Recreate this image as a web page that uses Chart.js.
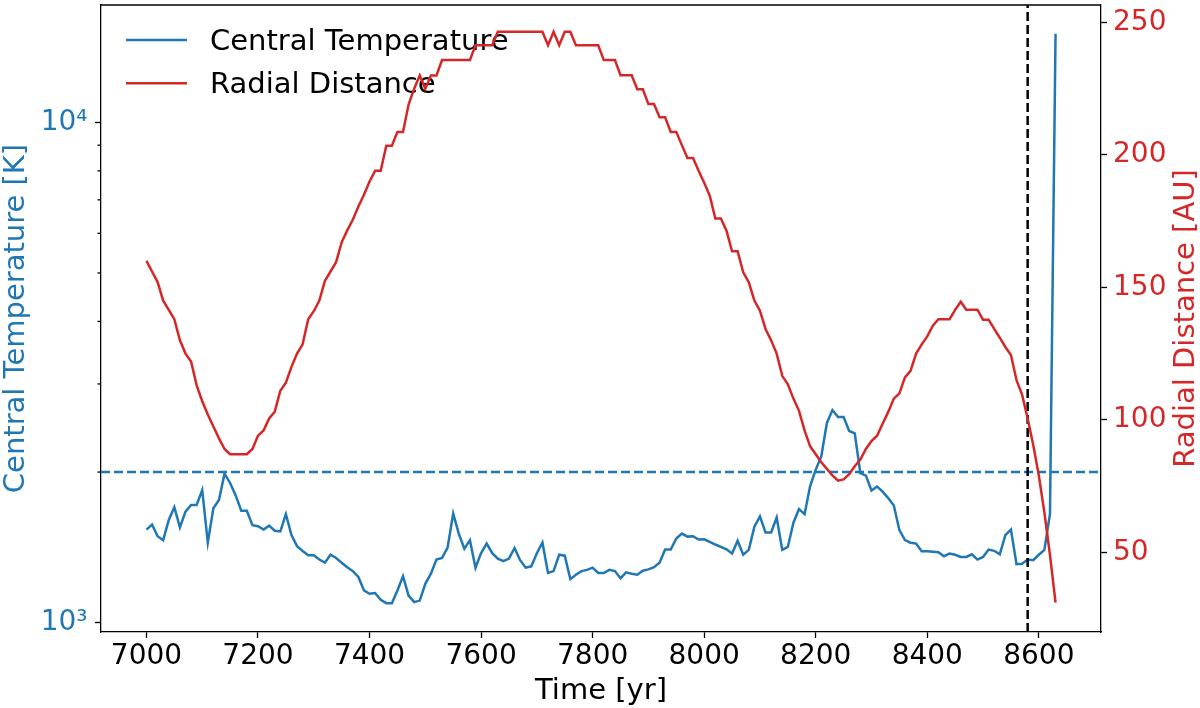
<!DOCTYPE html>
<html>
<head>
<meta charset="utf-8">
<script src="https://cdn.jsdelivr.net/npm/chart.js@4"></script>
<style>
  html, body { margin: 0; padding: 0; background: #fff; }
</style>
</head>
<body>
<canvas id="chart" width="1200" height="708"></canvas>
<script>
// time samples [yr]
const years = [
  7000, 7010, 7020, 7030, 7040, 7050, 7060, 7070, 7080, 7090,
  7100, 7110, 7120, 7130, 7140, 7150, 7160, 7170, 7180, 7190,
  7200, 7210, 7220, 7230, 7240, 7250, 7260, 7270, 7280, 7290,
  7300, 7310, 7320, 7330, 7340, 7350, 7360, 7370, 7380, 7390,
  7400, 7410, 7420, 7430, 7440, 7450, 7460, 7470, 7480, 7490,
  7500, 7510, 7520, 7530, 7540, 7550, 7560, 7570, 7580, 7590,
  7600, 7610, 7620, 7630, 7640, 7650, 7660, 7670, 7680, 7690,
  7700, 7710, 7720, 7730, 7740, 7750, 7760, 7770, 7780, 7790,
  7800, 7810, 7820, 7830, 7840, 7850, 7860, 7870, 7880, 7890,
  7900, 7910, 7920, 7930, 7940, 7950, 7960, 7970, 7980, 7990,
  8000, 8010, 8020, 8030, 8040, 8050, 8060, 8070, 8080, 8090,
  8100, 8110, 8120, 8130, 8140, 8150, 8160, 8170, 8180, 8190,
  8200, 8210, 8220, 8230, 8240, 8250, 8260, 8270, 8280, 8290,
  8300, 8310, 8320, 8330, 8340, 8350, 8360, 8370, 8380, 8390,
  8400, 8410, 8420, 8430, 8440, 8450, 8460, 8470, 8480, 8490,
  8500, 8510, 8520, 8530, 8540, 8550, 8560, 8570, 8580, 8590,
  8600, 8610, 8620, 8630
];

// central temperature [K]
const centralTemp = [
  1535, 1571, 1489, 1462, 1604, 1701, 1550, 1667, 1719, 1719,
  1841, 1446, 1693, 1759, 1985, 1902, 1796, 1674, 1674, 1566,
  1559, 1535, 1563, 1527, 1522, 1648, 1497, 1422, 1391, 1364,
  1364, 1337, 1318, 1367, 1347, 1318, 1291, 1268, 1234, 1160,
  1142, 1146, 1111, 1094, 1094, 1160, 1239, 1133, 1099, 1107,
  1196, 1253, 1337, 1347, 1413, 1652, 1507, 1406, 1462, 1288,
  1377, 1439, 1377, 1343, 1327, 1343, 1410, 1333, 1288, 1296,
  1377, 1446, 1257, 1268, 1367, 1361, 1222, 1247, 1268, 1275,
  1288, 1257, 1257, 1275, 1268, 1227, 1261, 1253, 1247, 1270,
  1278, 1291, 1318, 1400, 1400, 1473, 1507, 1486, 1489, 1466,
  1468, 1451, 1433, 1417, 1402, 1375, 1458, 1367, 1398, 1556,
  1631, 1514, 1514, 1623, 1398, 1417, 1584, 1687, 1648, 1875,
  2023, 2149, 2507, 2660, 2576, 2576, 2416, 2389, 1990, 1968,
  1837, 1871, 1828, 1774, 1715, 1531, 1462, 1445, 1439, 1389,
  1389, 1386, 1383, 1358, 1375, 1367, 1353, 1353, 1370, 1337,
  1353, 1400, 1392, 1370, 1496, 1535, 1309, 1312, 1337, 1333,
  1367, 1398, 1650, 15040
];

// radial distance [AU]
const radialDist = [
  160, 156, 152, 145, 141.5, 138, 130, 125, 122, 113,
  107, 102, 97.5, 93, 89, 87, 87, 87, 87, 89,
  94, 96, 100.5, 103, 111, 114, 120, 125, 128.5, 138,
  141, 145, 152.5, 156, 159.5, 167, 171.5, 175.5, 180.5, 185,
  190, 194, 194, 203.5, 203.5, 208.7, 208.7, 219, 225, 230,
  225, 230, 230, 235.8, 235.8, 235.8, 235.8, 235.8, 235.8, 241.4,
  241.4, 241.4, 241.4, 246.5, 246.5, 246.5, 246.5, 246.5, 246.5, 246.5,
  246.5, 246.5, 241.4, 246.5, 241.4, 246.5, 246.5, 241.4, 241.4, 241.4,
  241.4, 241.4, 235.8, 235.8, 235.8, 230.1, 230.1, 230.1, 224.8, 224.8,
  219.2, 219.2, 214.2, 214.2, 208.7, 208.7, 203.7, 198.8, 198.8, 194,
  189.5, 184.6, 176, 176, 171.4, 163.6, 163.6, 155.7, 151.9, 145,
  141.2, 134.3, 130, 125, 116.6, 113.4, 108, 103.4, 96, 90,
  87, 84, 81.5, 79, 77, 77.5, 79.5, 82.5, 85, 89,
  92, 94, 98.5, 103, 108, 110, 116, 118.5, 125, 128.5,
  131.5, 135.5, 138, 138, 138, 141.5, 144.6, 141.6, 141.6, 141.6,
  137.8, 137.8, 134.3, 131, 127.5, 124.5, 115, 109.5, 100.5, 90.5,
  79, 65, 49, 31
];

const xTicks = [7000, 7200, 7400, 7600, 7800, 8000, 8200, 8400, 8600];
const tempTicks = [1000, 2000, 3000, 4000, 5000, 6000, 7000, 8000, 9000, 10000];
const tempLabels = { 1000: '10³', 10000: '10⁴' };
const distTicks = [50, 100, 150, 200, 250];

const tempThreshold = 2000;   // dashed horizontal line
const markTime = 8580;        // dashed vertical line

const BLUE = '#1f77b4';
const RED = '#d62728';
const FONT = '"DejaVu Sans", sans-serif';

const xMin = 6918.5, xMax = 8711.5;
const tMin = 958, tMax = 17160;
const dMin = 19.9, dMax = 256.6;

Chart.defaults.font.family = FONT;
Chart.defaults.font.size = 28;
Chart.defaults.color = '#000';

const setTicks = vals => scale => { scale.ticks = vals.map(v => ({ value: v })); };
const noPad = scale => {
  scale.paddingTop = 0; scale.paddingBottom = 0;
  scale.paddingLeft = 0; scale.paddingRight = 0;
};

// spine on top, minor ticks, right axis title, legend
const extras = {
  id: 'extras',
  beforeDatasetsDraw(chart) {
    const { ctx, chartArea: a, scales } = chart;
    ctx.save();
    ctx.strokeStyle = '#000';
    ctx.lineWidth = 1.3;
    ctx.beginPath();
    ctx.moveTo(a.left, a.top);
    ctx.lineTo(a.right, a.top);
    ctx.stroke();

    // minor ticks on the log axis
    tempTicks.filter(v => !tempLabels[v]).forEach(v => {
      const y = scales.y.getPixelForValue(v);
      ctx.beginPath();
      ctx.moveTo(a.left - 3.5, y);
      ctx.lineTo(a.left, y);
      ctx.stroke();
    });

    // right axis title, reading bottom to top
    ctx.save();
    ctx.translate(1186, (a.top + a.bottom) / 2);
    ctx.rotate(-Math.PI / 2);
    ctx.font = '29px ' + FONT;
    ctx.fillStyle = RED;
    ctx.textAlign = 'center';
    ctx.textBaseline = 'middle';
    ctx.fillText('Radial Distance [AU]', 0, 0);
    ctx.restore();

    // legend
    const items = [
      { text: 'Central Temperature', color: BLUE, y: 40 },
      { text: 'Radial Distance', color: RED, y: 83.3 }
    ];
    ctx.font = '29px ' + FONT;
    ctx.textAlign = 'left';
    ctx.textBaseline = 'alphabetic';
    items.forEach(it => {
      ctx.strokeStyle = it.color;
      ctx.lineWidth = 2.5;
      ctx.beginPath();
      ctx.moveTo(126, it.y);
      ctx.lineTo(187, it.y);
      ctx.stroke();
      ctx.fillStyle = '#000';
      ctx.fillText(it.text, 210, it.y + 10);
    });
    ctx.restore();
  }
};

new Chart(document.getElementById('chart'), {
  type: 'line',
  data: {
    datasets: [
      {
        label: 'Radial Distance',
        data: years.map((t, i) => ({ x: t, y: radialDist[i] })),
        yAxisID: 'y2',
        borderColor: RED,
        borderWidth: 2.5,
        pointRadius: 0,
        order: 0
      },
      {
        label: 'mark',
        data: [{ x: markTime, y: dMin }, { x: markTime, y: dMax }],
        yAxisID: 'y2',
        borderColor: '#000',
        borderWidth: 2.5,
        borderDash: [9, 4],
        pointRadius: 0,
        order: 1
      },
      {
        label: 'Central Temperature',
        data: years.map((t, i) => ({ x: t, y: centralTemp[i] })),
        yAxisID: 'y',
        borderColor: BLUE,
        borderWidth: 2.5,
        pointRadius: 0,
        order: 2
      },
      {
        label: 'threshold',
        data: [{ x: xMin, y: tempThreshold }, { x: xMax, y: tempThreshold }],
        yAxisID: 'y',
        borderColor: BLUE,
        borderWidth: 2.5,
        borderDash: [9, 4],
        pointRadius: 0,
        order: 3
      }
    ]
  },
  options: {
    responsive: false,
    animation: false,
    devicePixelRatio: 1,
    layout: { padding: { top: 5, left: 0, right: 0, bottom: 0 } },
    plugins: { legend: { display: false }, tooltip: { enabled: false } },
    scales: {
      x: {
        type: 'linear',
        position: 'bottom',
        min: xMin,
        max: xMax,
        afterBuildTicks: setTicks(xTicks),
        afterFit: s => { s.height = 76; noPad(s); },
        grid: { drawOnChartArea: false, tickLength: 6, tickColor: '#000', tickWidth: 1.3 },
        border: { display: true, color: '#000', width: 1.3 },
        ticks: { color: '#000', padding: 1.5, maxRotation: 0, autoSkip: false, callback: v => String(v) },
        title: { display: true, text: 'Time [yr]', color: '#000', font: { size: 29, lineHeight: 1.124 }, padding: 0 }
      },
      y: {
        type: 'logarithmic',
        position: 'left',
        min: tMin,
        max: tMax,
        afterBuildTicks: setTicks(tempTicks),
        afterFit: s => { s.width = 101; noPad(s); },
        grid: {
          drawOnChartArea: false, tickLength: 6, tickWidth: 1.3,
          tickColor: c => (c.tick && tempLabels[c.tick.value]) ? '#000' : 'rgba(0,0,0,0)'
        },
        border: { display: true, color: '#000', width: 1.3 },
        ticks: { color: BLUE, padding: 7.5, autoSkip: false, callback: v => tempLabels[v] || '' },
        title: { display: true, text: 'Central Temperature [K]', color: BLUE, font: { size: 29, lineHeight: 1.17 }, padding: { top: 0, bottom: 0 } }
      },
      y2: {
        type: 'linear',
        position: 'right',
        min: dMin,
        max: dMax,
        afterBuildTicks: setTicks(distTicks),
        afterFit: s => { s.width = 99; noPad(s); },
        grid: { drawOnChartArea: false, tickLength: 6, tickColor: '#000', tickWidth: 1.3 },
        border: { display: true, color: '#000', width: 1.3 },
        ticks: { color: RED, padding: 6, autoSkip: false, callback: v => String(v) }
      }
    }
  },
  plugins: [extras]
});
</script>
</body>
</html>
